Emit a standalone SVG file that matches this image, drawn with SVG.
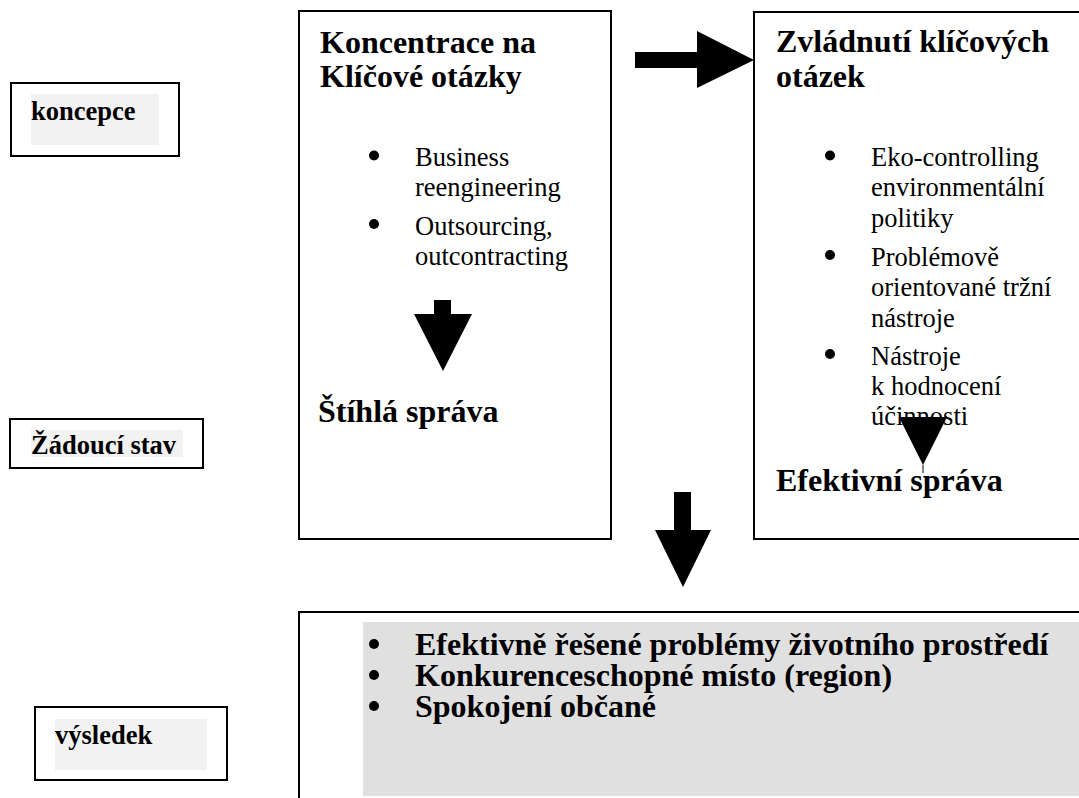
<svg xmlns="http://www.w3.org/2000/svg" width="1079" height="798" viewBox="0 0 1079 798">
<style>
.box{fill:#fff;stroke:#000;stroke-width:2}
.lbl{font-family:"Liberation Serif","Times New Roman",serif;font-weight:bold;font-size:26.5px;fill:#000}
.hd{font-family:"Liberation Serif","Times New Roman",serif;font-weight:bold;font-size:32px;fill:#000}
.tx{font-family:"Liberation Serif","Times New Roman",serif;font-size:26.5px;fill:#000}
.bt{font-family:"Liberation Serif","Times New Roman",serif;font-weight:bold;font-size:32px;fill:#000}
.arr{fill:#000}
</style>
<rect width="1079" height="798" fill="#fff"/>
<g id="koncepce">
<rect class="box" x="11" y="83" width="168" height="73"/>
<rect x="31" y="94" width="128" height="51" fill="#f2f2f2"/>
<text class="lbl" x="31" y="120">koncepce</text>
</g>
<g id="zadouci-stav">
<rect class="box" x="10" y="419" width="193" height="49"/>
<rect x="31" y="430" width="152" height="27" fill="#f2f2f2"/>
<text class="lbl" x="31" y="454">Žádoucí stav</text>
</g>
<g id="vysledek">
<rect class="box" x="35" y="707" width="192" height="73"/>
<rect x="55" y="719" width="152" height="51" fill="#f2f2f2"/>
<text class="lbl" x="55" y="744">výsledek</text>
</g>
<g id="koncentrace">
<rect class="box" x="299" y="11" width="312" height="528"/>
<text class="hd" x="320" y="53">Koncentrace na</text>
<text class="hd" x="320" y="87">Klíčové otázky</text>
<circle cx="374" cy="155.5" r="5"/>
<text class="tx" x="415" y="166">Business</text>
<text class="tx" x="415" y="196">reengineering</text>
<circle cx="374" cy="224" r="5"/>
<text class="tx" x="415" y="234.5">Outsourcing,</text>
<text class="tx" x="415" y="265">outcontracting</text>
<text class="hd" x="318" y="422">Štíhlá správa</text>
</g>
<g id="zvladnuti">
<rect class="box" x="754" y="12" width="340" height="527"/>
<text class="hd" x="776" y="52">Zvládnutí klíčových</text>
<text class="hd" x="776" y="87">otázek</text>
<circle cx="830" cy="155.5" r="5"/>
<text class="tx" x="871" y="166">Eko-controlling</text>
<text class="tx" x="871" y="196">environmentální</text>
<text class="tx" x="871" y="227">politiky</text>
<circle cx="830" cy="255" r="5"/>
<text class="tx" x="871" y="265.5">Problémově</text>
<text class="tx" x="871" y="296">orientované tržní</text>
<text class="tx" x="871" y="326.5">nástroje</text>
<circle cx="830" cy="354" r="5"/>
<text class="tx" x="871" y="364.5">Nástroje</text>
<text class="tx" x="871" y="395">k hodnocení</text>
<text class="tx" x="871" y="425">účinnosti</text>
<text class="hd" x="776" y="491">Efektivní správa</text>
</g>
<g id="vysledek-obsah">
<rect class="box" x="299" y="612" width="800" height="200"/>
<rect x="363" y="622" width="716" height="174" fill="#e0e0e0"/>
<circle cx="374" cy="644" r="5"/>
<text class="bt" x="415" y="655">Efektivně řešené problémy životního prostředí</text>
<circle cx="374" cy="675" r="5"/>
<text class="bt" x="415" y="686">Konkurenceschopné místo (region)</text>
<circle cx="374" cy="706" r="5"/>
<text class="bt" x="415" y="717">Spokojení občané</text>
</g>
<g id="connectors">
<polygon class="arr" points="635,52 697,52 697,31 754,60 697,88 697,68 635,68"/>
<polygon class="arr" points="434,300 451,300 451,314 472,314 443,371 414,314 434,314"/>
<polygon class="arr" points="899,417 947,417 923,465"/>
<line x1="923" y1="465" x2="923" y2="473" stroke="#000" stroke-width="1"/>
<polygon class="arr" points="674,492 691,492 691,530 711,530 683,587 655,530 674,530"/>
</g>
</svg>
